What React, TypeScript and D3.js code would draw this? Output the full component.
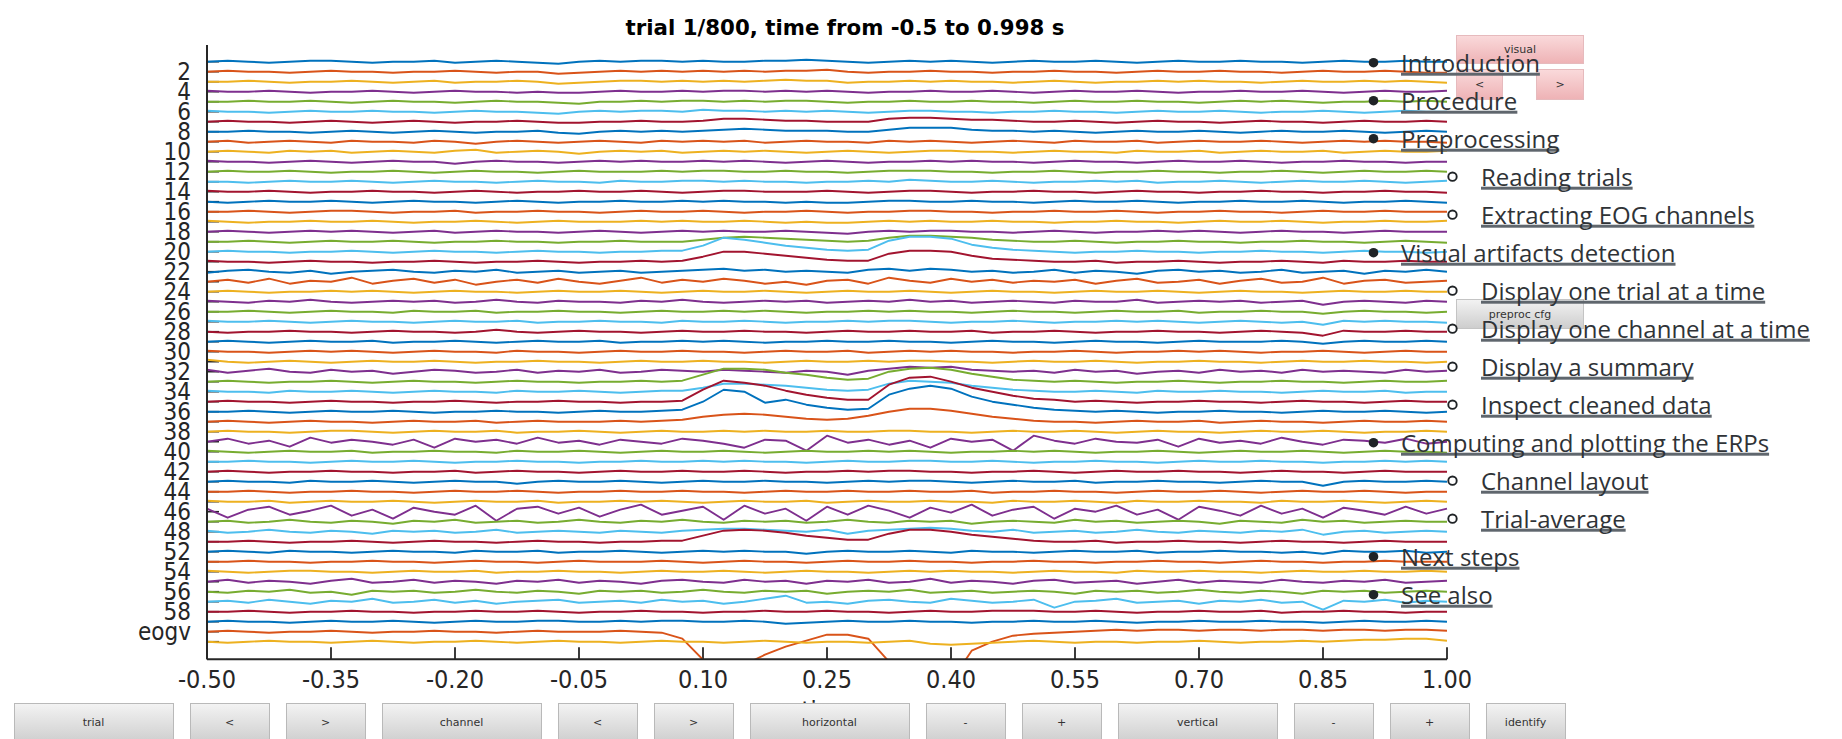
import React from "react";
import * as d3 from "d3";

// ---------------- data ----------------
const titleText = "trial 1/800, time from -0.5 to 0.998 s";
const xLabelText = "time";
const xTickValues = [-0.5, -0.35, -0.2, -0.05, 0.1, 0.25, 0.4, 0.55, 0.7, 0.85, 1.0];
const timeStart = -0.5;
const sampleStep = 0.025;

const channelNames = [
  "1", "2", "3", "4", "5", "6", "7", "8", "9", "10",
  "11", "12", "13", "14", "15", "16", "17", "18", "19", "20",
  "21", "22", "23", "24", "25", "26", "27", "28", "29", "30",
  "31", "32", "33", "34", "35", "36", "37", "38", "39", "40",
  "41", "42", "43", "44", "45", "46", "47", "48", "50", "52",
  "53", "54", "55", "56", "57", "58", "59", "eogv", "eogh",
];

const lineColors = ["#0072BD", "#D95319", "#EDB120", "#7E2F8E", "#77AC30", "#4DBEEE", "#A2142F"];

// amplitudes (µV, one channel spacing = 10 µV), sampled every 25 ms from -0.5 to 1.0 s
const ch01 = [0,1,0,-1,0,1,1,0,-1,0, 0,1,-1,0,1,0,-1,-2,0,1, 0,1,1,0,1,0,0,1,1,2, 1,0,-1,0,1,0,1,0,-1,0, 1,0,0,1,0,-1,0,1,0,0, 1,0,0,-1,0,1,0,0,1,0, 0];
const ch02 = [0,1,0,0,-1,0,1,0,0,-1, 0,0,1,0,-1,0,0,-2,-1,0, 1,0,1,0,1,0,1,0,1,1, 2,0,-1,0,0,1,0,0,-1,0, 0,1,0,0,-1,0,1,0,0,1, 0,0,-1,0,1,0,0,1,0,-1, -1];
const ch03 = [0,0,1,0,-1,0,0,1,0,-1, 0,1,-1,0,0,1,0,-2,-1,0, 1,1,0,1,0,1,0,1,2,1, 1,-1,0,0,1,0,1,0,0,-1, 0,1,0,-1,0,0,1,0,1,0, 0,-1,0,1,0,0,1,0,1,0, -1];
const ch04 = [1,0,0,1,0,-1,0,0,1,0, -1,0,1,0,0,-1,0,-1,-1,0, 1,0,0,1,0,1,1,0,1,0, 1,0,-1,0,0,1,0,0,1,0, -1,0,1,0,0,1,0,-1,0,0, 1,0,0,1,0,-1,0,1,0,0, 1];
const ch05 = [0,0,1,0,0,1,0,-1,0,1, 0,0,-1,0,1,0,0,-1,-2,0, 0,1,0,1,1,0,1,0,1,1, 0,-1,0,0,1,0,0,1,0,0, -1,0,1,0,0,1,0,0,-1,0, 1,0,1,0,-1,0,0,1,0,1, 0];
const ch06 = [1,0,0,-1,0,1,0,0,1,0, 0,-1,0,1,0,0,-1,-2,0,1, 0,1,1,0,2,1,1,0,1,0, 1,0,-1,0,1,1,0,0,-1,0, 0,1,0,0,-1,0,1,0,0,1, 0,-1,0,0,1,0,-1,0,1,0, 0];
const ch07 = [0,1,0,0,-1,0,1,0,-1,0, 1,0,-1,0,0,1,0,-1,-1,0, 0,1,0,0,1,3,3,2,1,1, 0,0,0,3,4,4,3,2,2,1, 0,0,1,0,-1,0,1,0,0,-1, 0,1,0,0,-1,0,1,0,0,1, 0];
const ch08 = [0,0,1,0,0,-1,0,1,0,-1, 0,1,0,-1,0,0,1,-1,-2,0, 1,0,1,0,1,2,3,2,1,1, 1,0,0,2,4,4,4,2,1,1, 0,1,0,-1,0,1,0,0,1,0, -1,0,1,0,0,1,0,-1,0,1, 0];
const ch09 = [0,1,-1,0,1,0,-1,1,0,0, -1,1,0,-2,0,1,0,-1,0,1, 0,-1,1,0,1,0,1,-1,0,1, 0,0,-1,1,0,1,0,-1,0,1, 0,-1,1,0,0,1,-1,0,1,0, 0,1,0,-1,0,1,0,1,0,0, -1];
const ch10 = [0,1,0,-1,1,0,1,-1,0,1, 0,-1,1,2,-1,0,1,0,-2,0, 1,0,1,-1,0,1,0,1,0,-1, 0,1,0,-1,0,1,1,0,0,-1, 0,1,0,0,-1,1,0,0,1,-1, 0,1,0,0,1,-1,0,1,0,0, 1];
const ch11 = [1,0,0,-1,0,1,0,-1,0,1, 0,0,-2,0,1,0,0,-1,0,1, 0,1,0,0,1,0,1,0,-1,0, 1,0,-1,0,0,1,0,1,0,0, -1,0,1,0,0,-1,0,1,0,0, 1,0,-1,0,0,1,0,0,-1,0, 0];
const ch12 = [0,1,0,0,1,0,-1,0,0,1, 0,-1,0,1,0,0,-1,0,1,0, 0,0,1,0,1,1,0,0,1,0, 0,-1,0,1,1,1,0,0,-1,0, 0,1,0,-1,0,0,1,0,0,-1, 0,0,1,0,-1,0,1,0,0,1, 0];
const ch13 = [0,0,-1,0,1,0,0,1,0,-1, 0,1,0,0,-1,0,1,0,0,-1, 1,0,0,1,1,0,1,0,0,-1, 0,0,1,0,2,1,0,0,1,0, -1,0,0,1,0,1,-1,0,0,1, 0,-1,0,1,0,0,1,0,-1,0, 1];
const ch14 = [1,0,0,1,0,-1,0,0,1,0, 0,-1,0,1,0,-1,0,0,1,0, 0,1,0,-1,0,1,1,0,0,0, 1,0,-1,0,1,1,0,-1,0,0, 1,0,0,-1,0,1,0,0,-1,0, 0,1,0,0,-1,0,0,1,0,0, -1];
const ch15 = [0,-1,0,1,0,0,1,0,-1,0, 1,0,0,-1,0,1,0,-1,0,0, 1,0,0,1,0,1,0,0,-1,0, -1,-1,0,1,1,0,0,1,0,0, -1,0,1,0,0,1,0,-1,0,0, 1,0,0,1,0,-1,0,0,1,0, -1];
const ch16 = [0,0,1,0,-1,0,1,1,0,-1, 0,0,1,-1,0,0,1,0,0,-1, 0,1,0,0,1,0,-1,0,0,1, 0,-1,0,0,1,1,0,0,-1,0, 0,1,0,0,1,0,-1,0,0,1, 0,0,-1,0,1,0,0,1,0,0, 0];
const ch17 = [1,0,-1,0,0,1,0,0,1,0, -1,0,0,1,0,-1,0,1,0,0, 0,1,0,1,0,0,1,0,-1,0, -1,-1,0,1,0,1,0,0,1,0, 0,-1,0,0,1,0,0,-1,0,1, 0,0,1,0,-1,0,0,1,0,0, 1];
const ch18 = [0,1,0,-1,0,1,0,1,0,-1, 0,1,-1,0,1,0,0,-1,0,1, 0,-1,0,1,0,1,0,0,1,0, -1,-2,0,1,0,1,1,0,0,-1, 0,1,0,-1,0,0,1,0,1,0, -1,0,1,0,0,-1,0,1,0,0, 0];
const ch19 = [0,0,1,0,-1,0,1,0,0,1, 0,-1,0,0,1,0,0,-1,0,0, 1,0,0,0,2,4,5,4,3,2, 1,0,1,4,6,6,5,4,2,1, 0,0,1,0,-1,0,0,1,0,0, -1,0,0,1,0,0,-1,0,1,0, -1];
const ch20 = [0,1,0,0,-1,0,0,1,0,-1, 0,1,0,0,-1,0,1,0,0,-1, 0,0,1,1,6,14,12,9,6,4, 2,1,2,11,15,15,13,7,4,2, 1,0,-1,0,0,1,0,0,-1,0, 0,1,0,0,-1,0,1,0,0,-1, 0];
const ch21 = [1,0,0,-1,0,1,0,0,-1,0, 0,1,0,-1,0,0,1,0,-1,0, 0,1,0,1,5,10,10,8,6,4, 2,1,1,8,11,11,10,6,3,2, 1,0,0,1,-1,0,0,1,0,-1, 0,0,1,0,-1,1,0,0,1,0, 0];
const ch22 = [-1,1,2,0,-1,1,-2,0,1,2, 0,-1,1,0,2,-1,0,1,-1,0, 1,-1,0,1,2,3,1,2,0,1, 0,-1,2,3,1,3,2,0,1,-1, 0,2,-1,1,0,-2,1,2,0,1, -1,0,2,-1,0,1,-2,1,0,2, 0];
const ch23 = [0,2,-1,3,-2,1,0,4,-2,1, 3,-1,2,-3,0,2,-1,3,0,-2, 1,4,-1,2,0,3,1,-2,0,-3, 1,2,-2,4,1,-1,3,0,2,-1, 1,0,2,-2,1,3,-1,0,2,-2, 1,3,-1,0,4,-2,1,2,-1,0, 1];
const ch24 = [0,1,0,-1,0,0,1,0,1,0, -1,0,1,0,0,-1,0,1,0,0, 1,0,-1,0,1,0,0,1,0,-1, 0,1,0,0,1,0,-1,0,1,0, 0,-1,0,1,0,0,1,0,-1,0, 1,0,0,-1,0,1,0,0,1,0, 0];
const ch25 = [1,0,-1,1,0,2,0,-1,0,1, 0,1,-1,0,2,0,-1,1,0,0, -1,1,0,2,0,-1,0,1,0,1, -1,0,1,0,2,0,1,-1,0,1, 0,-1,1,0,0,2,-1,0,1,0, 1,-1,0,1,-3,0,1,0,-1,1, 0];
const ch26 = [0,0,1,0,-1,0,1,0,0,-1, 1,0,0,1,-1,0,0,1,0,0, -1,0,1,0,0,1,0,1,0,-1, 0,0,1,0,1,0,0,-1,0,1, 0,0,-1,0,1,0,0,1,-1,0, 0,1,0,0,-2,0,1,0,0,-1, 0];
const ch27 = [1,0,0,1,0,-1,0,1,0,0, -1,0,1,0,0,1,-1,0,0,1, 0,0,-1,1,0,0,1,0,-1,0, 0,1,0,1,1,0,-1,0,0,1, 0,-1,0,0,1,0,1,0,-1,0, 1,0,-1,0,-3,1,0,1,0,0, -1];
const ch28 = [0,-1,0,0,1,0,0,-1,0,1, 0,0,-1,0,2,0,-1,0,1,0, 0,-1,0,1,0,0,1,0,0,-1, 0,1,0,0,1,0,0,1,-1,0, 0,1,0,-1,0,0,1,0,0,-1, 0,1,0,-1,-4,1,0,0,1,0, 0];
const ch29 = [0,1,0,-1,0,1,0,0,1,-1, 0,0,1,0,-1,0,1,0,0,1, -1,0,0,1,0,1,0,-1,0,0, 1,0,0,1,0,0,-1,0,1,0, 0,-1,0,1,0,0,-1,0,1,0, 0,0,1,0,-2,0,1,0,0,1, 0];
const ch30 = [1,0,0,-1,0,1,0,1,0,-1, 0,1,0,0,-1,1,0,0,-1,0, 1,0,0,1,0,0,-1,0,1,0, 0,1,-1,0,1,0,1,0,0,-1, 0,0,1,0,-1,0,0,1,0,1, 0,-1,0,0,1,0,-1,0,1,0, 0];
const ch31 = [2,0,-1,0,1,0,-1,0,1,0, 0,1,0,-1,0,0,1,0,0,-1, 0,1,0,0,1,0,0,-1,0,1, 0,0,1,0,1,1,0,0,-1,0, 1,0,0,1,0,-1,0,0,1,0, 0,-1,0,1,0,0,1,0,0,-1, 0];
const ch32 = [2,-1,1,3,0,-1,2,0,1,-2, 0,2,1,-1,0,2,-1,1,0,2, -1,0,2,1,0,2,1,0,-1,1, 0,-3,1,3,5,4,5,2,1,0, 1,-1,2,0,1,-2,0,1,-1,2, 0,1,-1,2,0,1,0,-1,2,0, 1];
const ch33 = [0,1,0,-1,0,0,1,0,-1,0, 1,0,0,-1,0,1,0,0,-1,0, 0,1,0,1,7,13,13,12,9,7, 4,2,3,10,13,14,12,8,5,2, 1,0,1,0,-1,0,0,1,0,-1, 0,0,1,0,0,-1,0,1,0,0, 1];
const ch34 = [1,0,0,-1,1,0,0,1,0,-1, 0,1,0,0,-1,1,0,0,1,0, -1,0,1,1,4,8,8,7,6,4, 2,1,2,8,11,10,9,6,4,2, 1,0,0,1,0,-1,1,0,0,1, 0,0,-1,0,1,0,0,1,-1,0, 0];
const ch35 = [0,1,0,0,-1,0,1,0,0,-1, 0,0,1,0,-1,0,0,1,0,0, -1,0,0,1,12,21,19,16,11,7, 4,2,2,17,24,25,20,14,10,6, 3,2,0,1,0,-1,0,0,1,0, 0,-1,0,1,0,0,-1,0,1,0, 0];
const ch36 = [0,0,1,0,-1,0,1,0,0,1, 0,-1,0,0,1,0,0,-1,0,1, 0,0,1,2,10,22,20,9,12,7, 4,2,3,17,23,26,23,15,10,7, 4,2,1,0,1,0,-1,0,0,1, 0,0,-1,0,1,0,0,1,0,-1, 0];
const ch37 = [0,1,0,-1,0,1,0,0,-1,0, 1,0,0,1,-1,0,1,0,0,0, 1,0,1,2,5,7,8,7,5,3, 2,3,6,10,13,13,11,8,5,3, 1,0,0,-1,0,1,0,0,1,-1, 0,1,0,0,-1,0,1,0,0,1, 0];
const ch38 = [0,1,0,0,-1,0,1,1,0,-1, 0,1,0,0,1,-1,0,0,1,0, -1,0,1,0,0,1,0,1,0,0, 1,0,0,1,1,0,0,-1,0,1, 0,0,1,0,-1,0,1,0,0,-1, 0,1,0,0,1,0,-1,0,0,1, 0];
const ch39 = [0,3,-2,1,-5,4,-1,2,0,-3, 2,-6,3,0,2,-2,4,-1,1,-3, 2,0,-2,3,1,-2,-6,2,1,-9, 6,-1,2,-3,1,-6,3,0,2,-9, 6,1,-2,3,0,-1,2,-5,3,-1, 1,-2,4,0,-3,2,1,-1,3,-2, 0];
const ch40 = [1,0,-1,0,1,0,0,1,-1,0, 0,1,0,0,-1,1,0,0,1,0, -1,0,1,0,0,1,0,-1,0,1, 0,0,1,0,1,0,-1,0,0,1, 0,1,0,-1,0,0,1,0,-1,0, 1,0,0,1,0,-1,0,1,0,0, -1];
const ch41 = [0,0,1,0,0,-1,0,1,0,0, 1,0,-1,0,0,1,0,0,-1,0, 0,1,0,0,1,0,1,0,0,-1, 0,1,0,0,1,1,0,0,1,0, -1,0,0,1,0,0,-1,0,1,0, 0,1,0,0,-1,0,0,1,0,1, 0];
const ch42 = [0,1,0,-1,0,0,1,0,0,-1, 0,0,1,-1,0,1,0,0,-1,0, 1,0,0,1,0,0,1,0,-1,0, 0,1,0,1,1,0,0,-1,0,0, 1,0,-1,0,1,0,0,1,0,0, -1,0,1,0,0,-1,0,1,0,0, 0];
const ch43 = [0,1,0,0,-1,1,0,0,1,0, -1,0,1,0,0,-2,0,1,0,0, 1,0,-1,0,1,0,0,1,0,0, -1,0,1,0,1,1,0,-1,0,1, 0,0,1,-1,0,0,1,0,0,-1, 0,1,0,0,-4,0,1,0,0,1, 0];
const ch44 = [0,0,1,0,-1,0,0,1,0,0, -1,0,1,0,0,1,0,-1,0,0, 1,0,0,1,0,0,-1,0,1,0, 0,1,0,0,1,0,0,1,-1,0, 0,1,0,0,-1,0,1,0,0,1, 0,-1,0,1,0,0,1,0,-1,0, 0];
const ch45 = [1,0,0,1,-1,0,1,0,0,1, 0,-1,0,1,0,0,1,-1,0,0, 1,0,1,0,-1,0,1,0,0,1, -1,0,1,0,0,1,0,0,-1,1, 0,0,1,0,-1,1,0,0,1,0, 0,-1,1,0,0,1,0,-1,0,1, 0];
const ch46 = [3,-6,2,5,-3,1,6,-4,2,-7, 4,0,-3,6,-9,3,5,-2,4,-5, 2,7,-3,1,5,-8,6,-2,3,-9, 5,-3,6,1,-6,4,-1,7,-4,2, 5,-7,3,0,6,-3,2,-8,5,1, -4,6,-2,3,-6,4,1,-3,5,-2, 3];
const ch47 = [0,1,-1,0,2,0,-1,1,0,-2, 1,0,2,-1,0,1,-1,0,2,0, -1,1,0,2,0,-1,1,0,1,-1, 0,2,0,-1,1,0,1,-2,0,1, 0,-1,2,0,1,-1,0,1,0,-2, 1,0,-1,2,0,1,-1,0,1,0, 0];
const ch48 = [1,-1,0,2,0,-1,1,0,-2,1, 0,1,-1,0,2,-1,0,1,0,-1, 1,0,-1,1,2,3,3,2,1,0, 2,-2,1,2,3,4,3,1,0,2, -1,0,1,-1,0,2,0,-1,1,0, -1,1,0,2,-3,0,1,-1,0,1, 0];
const ch49 = [0,0,1,0,-1,0,0,1,0,-1, 0,1,0,0,-1,0,1,0,0,-1, 0,0,1,1,6,11,12,11,9,6, 4,2,2,8,12,12,10,7,5,3, 1,0,0,1,-1,0,0,1,0,0, -1,0,1,0,0,-1,0,1,0,0, 0];
const ch50 = [0,1,0,-1,1,0,0,-1,0,1, 0,0,-1,1,0,0,1,-1,0,0, 1,0,-1,0,1,0,1,0,0,-2, 0,1,0,0,1,0,-1,1,0,0, -1,0,1,0,0,1,-1,0,0,1, 0,0,-1,0,-2,1,0,0,1,-1, 0];
const ch51 = [0,0,1,0,0,-1,0,0,1,0, 0,-1,0,1,0,0,-1,0,1,0, 0,0,1,0,-1,0,1,0,0,-1, 0,1,0,0,1,0,0,-1,0,0, 1,0,0,-1,0,0,1,0,0,-1, 0,1,0,0,-1,0,0,1,0,0, 0];
const ch52 = [1,0,-1,0,1,1,0,0,-1,0, 1,0,0,1,-1,0,0,1,0,0, -1,0,1,0,0,1,0,-1,0,1, 0,0,-1,0,1,0,1,0,0,-1, 0,1,0,0,-1,1,0,0,1,0, 0,-1,0,1,0,0,1,0,0,1, 0];
const ch53 = [0,2,-1,1,0,-2,1,3,-1,0, 2,-1,1,0,-2,1,0,2,-1,1, 0,-2,1,2,0,-1,2,0,1,-2, 1,0,2,-1,0,3,-1,1,0,-2, 1,2,-1,0,1,-2,0,2,-1,1, 0,-1,2,0,-1,1,0,2,-1,0, 1];
const ch54 = [0,-1,1,0,2,-1,0,-3,1,0, 1,-1,0,2,0,-1,1,0,-2,1, 0,1,-1,0,2,0,-1,1,0,1, -2,0,1,0,2,-1,0,1,-1,0, 1,0,-2,1,0,1,-1,0,2,0, -1,1,0,-2,1,0,1,-1,0,1, 0];
const ch55 = [0,1,-1,2,0,-2,1,0,3,-1, 0,2,-1,1,-2,0,1,2,-1,0, 1,-1,2,0,1,-2,0,3,6,-1, 0,-2,1,2,0,-1,3,1,-1,0, 2,-6,0,1,3,-1,0,1,-2,1, 0,2,-1,0,-8,1,0,2,-1,1, 0];
const ch56 = [0,0,1,0,-1,0,0,1,0,0, -1,0,0,1,0,0,1,0,-1,0, 0,1,0,0,-1,0,0,1,0,0, 1,0,0,-1,0,1,0,0,1,1, 1,0,0,1,0,-1,0,0,1,0, 0,1,-1,0,0,1,0,0,-1,0, 0];
const ch57 = [0,1,0,0,-1,0,1,0,0,1, 0,-1,0,1,0,0,1,1,0,0, 1,0,1,1,0,0,1,0,-2,-1, 0,1,0,0,1,0,0,-1,0,0, 1,0,0,1,0,-1,0,0,1,0, 0,1,0,0,-1,0,1,0,0,1, 0];
const ch58 = [0,1,0,-1,0,0,1,0,-1,0, 0,1,0,0,-1,0,1,0,0,0, 1,0,-1,-7,-28,-75,-33,-23,-15,-9, -3,-3,-7,-30,-80,-95,-50,-19,-10,-4, -2,-1,0,1,2,1,2,2,1,2, 2,1,2,2,1,2,2,1,2,2, 1];
const ch59 = [0,-1,0,1,0,0,-1,0,1,0, -1,0,0,1,0,-1,0,1,0,0, -1,0,1,0,0,-1,0,1,0,-1, 0,0,-1,0,1,-2,-3,-2,-1,0, 1,0,-1,0,0,-1,0,0,1,0, -1,0,0,1,0,1,2,2,3,3, 1];

const channelData = [
  ch01, ch02, ch03, ch04, ch05, ch06, ch07, ch08, ch09, ch10,
  ch11, ch12, ch13, ch14, ch15, ch16, ch17, ch18, ch19, ch20,
  ch21, ch22, ch23, ch24, ch25, ch26, ch27, ch28, ch29, ch30,
  ch31, ch32, ch33, ch34, ch35, ch36, ch37, ch38, ch39, ch40,
  ch41, ch42, ch43, ch44, ch45, ch46, ch47, ch48, ch49, ch50,
  ch51, ch52, ch53, ch54, ch55, ch56, ch57, ch58, ch59,
];

const bottomButtonLabels = ["trial", "<", ">", "channel", "<", ">", "horizontal", "-", "+", "vertical", "-", "+", "identify"];
const bottomButtonWide = [true, false, false, true, false, false, true, false, false, true, false, false, false];

const tocItems = [
  "Introduction", "Procedure", "Preprocessing", "Reading trials", "Extracting EOG channels",
  "Visual artifacts detection", "Display one trial at a time", "Display one channel at a time",
  "Display a summary", "Inspect cleaned data", "Computing and plotting the ERPs",
  "Channel layout", "Trial-average", "Next steps", "See also",
];
const tocLevels = [0, 0, 0, 1, 1, 0, 1, 1, 1, 1, 0, 1, 1, 0, 0];

// ---------------- helpers ----------------
let measureCtx: CanvasRenderingContext2D | null = null;
function measure(text: string, font: string): number {
  if (!measureCtx) measureCtx = document.createElement("canvas").getContext("2d");
  if (!measureCtx) return text.length * 12;
  measureCtx.font = font;
  return measureCtx.measureText(text).width;
}

const W = 1842;
const H = 739;
const tickFont = "'DejaVu Sans Condensed', 'DejaVu Sans', sans-serif";
const tocFontFamily = "'Open Sans', 'Noto Sans', sans-serif";
const tocFontSize = 24;

export default function App() {
  const x = d3.scaleLinear().domain([-0.5, 1.0]).range([207, 1447]);
  const y = d3.scaleLinear().domain([-0.67, 60.75]).range([45, 659.2]);
  const amp = d3.scaleLinear().domain([0, 10]).range([0, 10]);
  const [x0, x1] = x.range();
  const [yTop, yBot] = y.range();

  const line = d3
    .line<{ t: number; v: number; c: number }>()
    .x((d) => x(d.t))
    .y((d) => y(d.c) - amp(d.v));

  const paths = channelData.map((vals, ci) =>
    line(vals.map((v, i) => ({ t: timeStart + i * sampleStep, v, c: ci + 1 })))
  );

  // bottom buttons layout
  const btnWide = 159, btnNarrow = 79, btnGap = 17;
  let bx = 14;
  const bottomButtons = bottomButtonLabels.map((label, i) => {
    const w = bottomButtonWide[i] ? btnWide : btnNarrow;
    const b = { label, x: bx, w };
    bx += w + btnGap;
    return b;
  });

  const fmt = (t: number) => d3.format(".2f")(t).replace("\u2212", "-");

  return (
    <svg
      width={W}
      height={H}
      viewBox={`0 0 ${W} ${H}`}
      style={{ position: "absolute", left: 0, top: 0, display: "block", background: "#ffffff" }}
    >
      <defs>
        <clipPath id="plotClip">
          <rect x={x0} y={yTop} width={x1 - x0 + 2} height={yBot - yTop} />
        </clipPath>
        <linearGradient id="grayBtn" x1="0" y1="0" x2="0" y2="1">
          <stop offset="0" stopColor="#f3f3f3" />
          <stop offset="1" stopColor="#cdcdcd" />
        </linearGradient>
        <linearGradient id="pinkBtn" x1="0" y1="0" x2="0" y2="1">
          <stop offset="0" stopColor="#fadadb" />
          <stop offset="1" stopColor="#eeb2b5" />
        </linearGradient>
      </defs>

      {/* title */}
      <text
        x={845}
        y={35}
        textAnchor="middle"
        fontFamily="'DejaVu Sans', sans-serif"
        fontWeight="bold"
        fontSize={21.3}
        fill="#000"
      >
        {titleText}
      </text>

      {/* y ticks */}
      {channelNames.map((_, ci) => (
        <line key={`yt${ci}`} x1={x0} x2={x0 + 12} y1={y(ci + 1)} y2={y(ci + 1)} stroke="#262626" strokeWidth={1.6} />
      ))}
      {/* x ticks */}
      {xTickValues.map((t) => (
        <line key={`xt${t}`} x1={x(t)} x2={x(t)} y1={yBot} y2={yBot - 12} stroke="#262626" strokeWidth={1.8} />
      ))}

      {/* traces */}
      <g clipPath="url(#plotClip)" fill="none" strokeWidth={1.9} strokeLinejoin="round">
        {paths.map((p, ci) => (
          <path key={`tr${ci}`} d={p || ""} stroke={lineColors[ci % lineColors.length]} />
        ))}
      </g>

      {/* axis lines */}
      <line x1={x0} x2={x0} y1={yTop} y2={yBot} stroke="#262626" strokeWidth={2} />
      <line x1={x0} x2={x1} y1={yBot} y2={yBot} stroke="#262626" strokeWidth={2} />

      {/* y labels */}
      {channelNames.map((name, ci) =>
        (ci + 1) % 2 === 0 ? (
          <text
            key={`yl${ci}`}
            x={191}
            y={y(ci + 1) + 8.5}
            textAnchor="end"
            fontFamily={tickFont}
            fontStretch="condensed"
            fontSize={24}
            fill="#262626"
          >
            {name}
          </text>
        ) : null
      )}

      {/* x labels */}
      {xTickValues.map((t) => (
        <text
          key={`xl${t}`}
          x={x(t)}
          y={688}
          textAnchor="middle"
          fontFamily={tickFont}
          fontStretch="condensed"
          fontSize={25}
          fill="#262626"
        >
          {fmt(t)}
        </text>
      ))}
      <text
        x={(x0 + x1) / 2}
        y={719}
        textAnchor="middle"
        fontFamily={tickFont}
        fontStretch="condensed"
        fontSize={25}
        fill="#262626"
      >
        {xLabelText}
      </text>

      {/* bottom buttons */}
      {bottomButtons.map((b, i) => (
        <g key={`bb${i}`}>
          <rect x={b.x + 0.5} y={703.5} width={b.w} height={40} fill="url(#grayBtn)" stroke="#b9b9b9" strokeWidth={1} />
          <text
            x={b.x + b.w / 2}
            y={726}
            textAnchor="middle"
            fontFamily="'DejaVu Sans', sans-serif"
            fontSize={11}
            fill="#333"
          >
            {b.label}
          </text>
        </g>
      ))}

      {/* right-side buttons */}
      <g fontFamily="'DejaVu Sans', sans-serif" fontSize={11} fill="#333" textAnchor="middle">
        <rect x={1456.5} y={35.5} width={127} height={28} fill="url(#pinkBtn)" stroke="#e6babd" />
        <text x={1520} y={53}>visual</text>
        <rect x={1456.5} y={69.5} width={46} height={30} fill="url(#pinkBtn)" stroke="#e6babd" />
        <text x={1479.5} y={88}>&lt;</text>
        <rect x={1536.5} y={69.5} width={47} height={30} fill="url(#pinkBtn)" stroke="#e6babd" />
        <text x={1560} y={88}>&gt;</text>
        <rect x={1456.5} y={299.5} width={127} height={29} fill="url(#grayBtn)" stroke="#c4c4c4" />
        <text x={1520} y={318}>preproc cfg</text>
      </g>

      {/* table-of-contents overlay */}
      {tocItems.map((item, k) => {
        const cy = 62.7 + 38 * k;
        const sub = tocLevels[k] === 1;
        const tx = sub ? 1481 : 1401;
        const base = cy + 9;
        const w = measure(item, `${tocFontSize}px ${tocFontFamily}`);
        return (
          <g key={`toc${k}`}>
            {sub ? (
              <circle cx={1452.5} cy={cy} r={4.2} fill="none" stroke="#1f2326" strokeWidth={1.9} />
            ) : (
              <circle cx={1373.5} cy={cy} r={4.8} fill="#1f2326" />
            )}
            <rect x={tx} y={base + 1} width={w} height={3} fill="#5f666d" />
            <text x={tx} y={base} fontFamily={tocFontFamily} fontSize={tocFontSize} fill="#2f3337">
              {item}
            </text>
          </g>
        );
      })}
    </svg>
  );
}
